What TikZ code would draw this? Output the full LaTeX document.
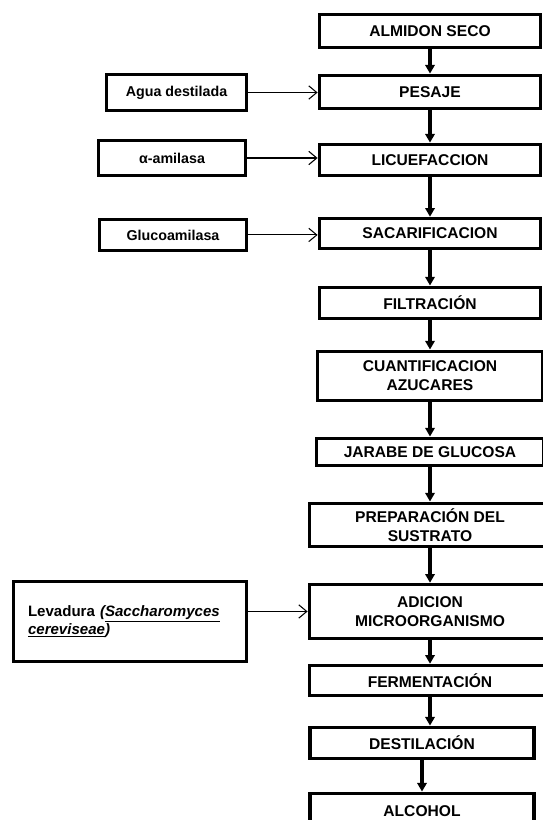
\documentclass[tikz,border=0pt]{standalone}
\usepackage{fontspec}
\setmainfont{Liberation Sans}
\usetikzlibrary{arrows.meta}
\begin{document}
\begin{tikzpicture}[node distance=50pt,
  paso/.style={draw,line width=2.6pt,align=center,inner sep=2pt,font=\fontsize{11.7}{14}\selectfont\bfseries},
  insumo/.style={draw,line width=2.6pt,align=center,inner sep=2pt,font=\fontsize{10.7}{13}\selectfont\bfseries},
  flujo/.style={line width=2.4pt,-{Triangle[length=6.5pt,width=7pt]}},
  entra/.style={line width=0.8pt,-{Straight Barb[length=6pt,width=10pt]}}]
\useasboundingbox (0,0) rectangle (406.5pt,-615pt);
\node[paso,minimum width=166pt,minimum height=25pt] (alm) at (322.5pt,-23.25pt) {ALMIDON SECO};
\node[paso,minimum width=166pt,minimum height=25pt,below of=alm,node distance=45.75pt] (pes) {PESAJE};
\node[paso,minimum width=166pt,minimum height=23.5pt,below of=pes,node distance=51pt] (lic) {LICUEFACCION};
\node[paso,minimum width=166pt,minimum height=22.5pt,below of=lic,node distance=55.1pt] (sac) {SACARIFICACION};
\node[paso,minimum width=166pt,minimum height=23.5pt,below of=sac,node distance=52.1pt] (fil) {FILTRACIÓN};
\node[paso,minimum width=169pt,minimum height=37pt,below of=fil,node distance=54.75pt] (cua) {CUANTIFICACION\\AZUCARES};
\node[paso,minimum width=170.5pt,minimum height=20.5pt,below of=cua,node distance=57pt] (jar) {JARABE DE GLUCOSA};
\node[paso,minimum width=181pt,minimum height=32.5pt,below of=jar,node distance=54.75pt] (pre) {PREPARACIÓN DEL\\SUSTRATO};
\node[paso,minimum width=181pt,minimum height=40.5pt,below of=pre,node distance=64.9pt] (adi) {ADICION\\MICROORGANISMO};
\node[paso,minimum width=181pt,minimum height=22.5pt,below of=adi,node distance=51.75pt] (fer) {FERMENTACIÓN};
\node[paso,minimum width=168pt,minimum height=23.5pt,below of=fer,node distance=46.9pt,xshift=-6pt] (des) {DESTILACIÓN};
\node[paso,minimum width=168pt,minimum height=26.5pt,below of=des,node distance=51pt] (alc) {ALCOHOL};

\node[insumo,minimum width=105pt,minimum height=27pt,left of=pes,node distance=190.1pt,yshift=-0.4pt] (agua) {Agua destilada};
\node[insumo,minimum width=110.5pt,minimum height=26.5pt,left of=lic,node distance=193.5pt,yshift=1.5pt] (ami) {α-amilasa};
\node[insumo,minimum width=110.5pt,minimum height=23.5pt,left of=sac,node distance=192.75pt,yshift=-1.1pt] (glu) {Glucoamilasa};
\node[insumo,align=left,text width=153pt,inner xsep=11pt,minimum height=60pt,left of=adi,node distance=225pt,yshift=-7.5pt,font=\fontsize{11.3}{14}\selectfont\bfseries] (lev) {Levadura \textit{(\underline{Saccharomyces}}\\\textit{\underline{cereviseae})}};

\path[flujo] (alm) edge (pes);
\path[flujo] (pes) edge (lic);
\path[flujo] (lic) edge (sac);
\path[flujo] (sac) edge (fil);
\path[flujo] (fil) edge (cua);
\path[flujo] (cua) edge (jar);
\path[flujo] (jar) edge (pre);
\path[flujo] (pre) edge (adi);
\path[flujo] (adi) edge (fer);
\path[flujo] (fer.south) edge (fer.south |- des.north);
\path[flujo] (des) edge (alc);

\path[entra] (agua.east) edge (agua.east -| pes.west);
\path[entra] (ami.east) edge (ami.east -| lic.west);
\path[entra] (glu.east) edge (glu.east -| sac.west);
\path[entra] (adi.west -| lev.east) edge (adi.west);
\end{tikzpicture}
\end{document}
